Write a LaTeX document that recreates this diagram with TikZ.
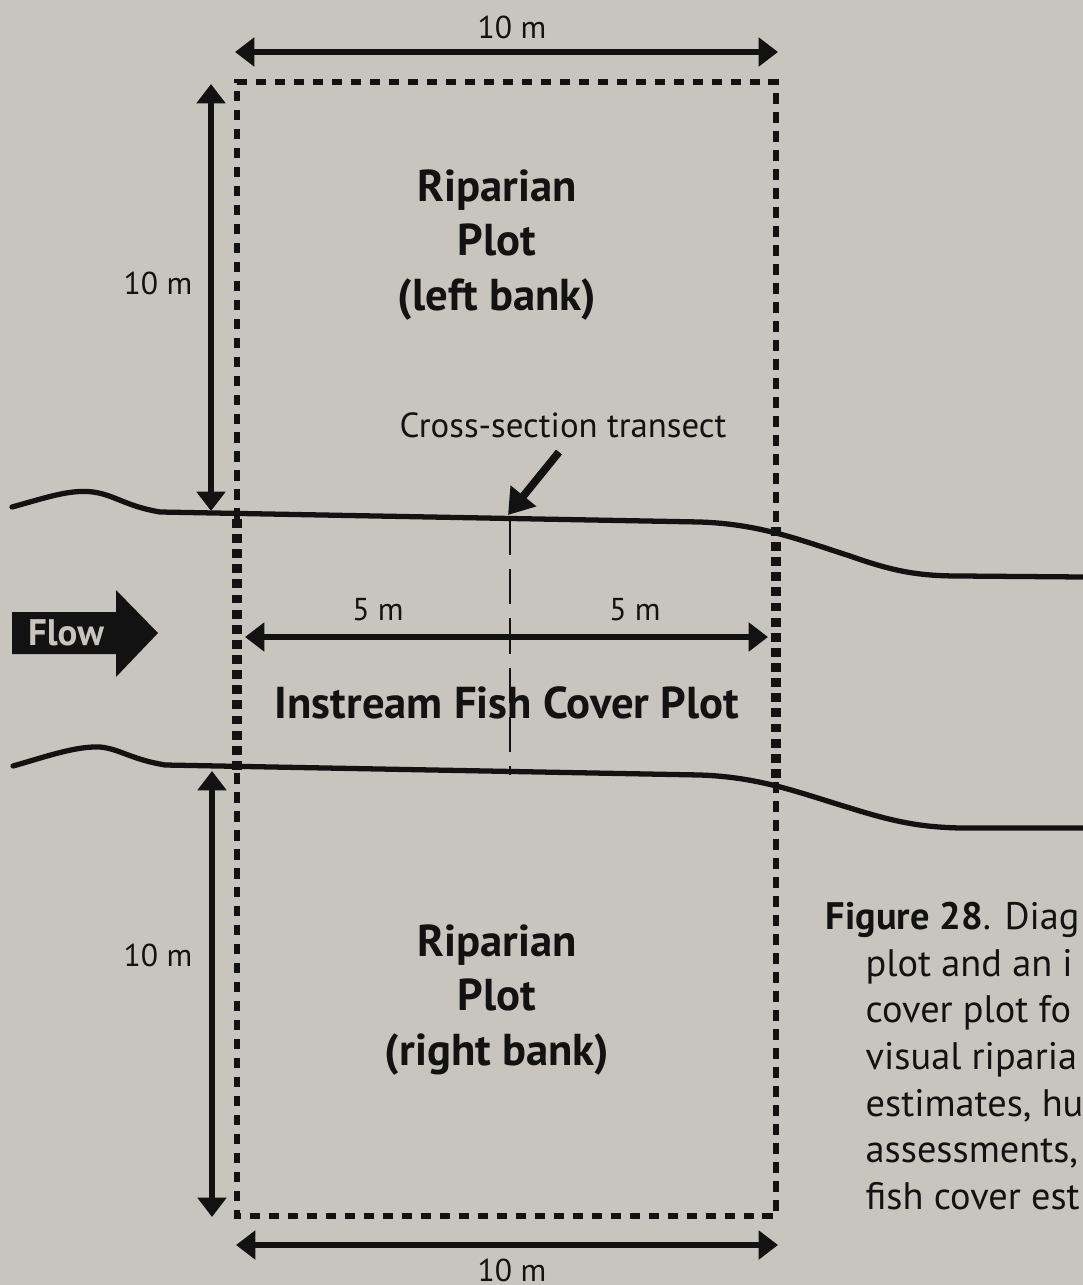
\documentclass[tikz,border=0pt]{standalone}
\usepackage{fontspec}
\setmainfont{PT Sans}
\usetikzlibrary{arrows.meta,positioning,calc}
\definecolor{paper}{RGB}{199,197,189}
\definecolor{ink}{RGB}{18,18,18}

\begin{document}
\begin{tikzpicture}[x=0.01cm,y=-0.01cm,>={Triangle[length=5.5pt,width=8pt]},
  dim/.style={<->,line width=1.5pt,ink},
  plotedge/.style={ink,line width=1.7pt,dash pattern=on 3pt off 2.4pt},
  streamedge/.style={ink,line width=3pt,dash pattern=on 2.5pt off 1.8pt},
  bank/.style={ink,line width=1.5pt,line cap=round},
  transect/.style={ink,line width=0.6pt,dash pattern=on 10pt off 4pt},
  lbl/.style={font=\fontsize{9}{11}\selectfont,text=ink,inner sep=1pt},
  plotlbl/.style={font=\bfseries\fontsize{12.7}{15.6}\selectfont,align=center,text=ink},
  capline/.style={anchor=base west,font=\fontsize{10.9}{13}\selectfont,text=ink,inner sep=0pt}]
\fill[paper] (0,0) rectangle (1083,1285);
\useasboundingbox (0,0) rectangle (1083,1285);

% plot corners
\coordinate (nw) at (237,82);
\coordinate (ne) at (776,82);
\coordinate (bl) at (237,519);
\coordinate (br) at (776,527);
\coordinate (cl) at (237,773);
\coordinate (cr) at (776,781);
\coordinate (sw) at (237,1216);
\coordinate (se) at (776,1216);

% stream banks
\draw[bank] (12,507) .. controls (45,498) and (70,489) .. (93,492)
  .. controls (115,495) and (125,506) .. (160,512) -- (700,522)
  .. controls (760,524) and (800,540) .. (850,556)
  .. controls (895,572) and (920,576) .. (960,576) -- (1083,577);
\draw[bank] (13,766) .. controls (45,757) and (75,746) .. (100,747)
  .. controls (120,749) and (130,759) .. (165,765) -- (700,775)
  .. controls (760,777) and (800,793) .. (850,808)
  .. controls (895,822) and (920,827) .. (960,828) -- (1083,828);

% plot outlines
\draw[plotedge] (bl) -- (nw) -- (ne) -- (br);
\draw[plotedge] (cl) -- (sw) -- (se) -- (cr);
\draw[streamedge] (bl) -- (cl);
\draw[streamedge] (br) -- (cr);

% transect
\coordinate (xtop) at (510,520);
\coordinate (xbot) at (510,775);
\draw[transect] (xtop) -- (xbot);
\node[lbl,font=\fontsize{9.9}{11}\selectfont] (xslbl) at (563,425) {Cross-section transect};
\coordinate (xstail) at (559,452);
\draw[->,>={Triangle[length=7pt,width=9pt]},line width=2.2pt,ink] (xstail) -- ($(xtop)+(-2,-5)$);

% dimensions
\coordinate (t1) at (235,52);  \coordinate (t2) at (778,52);
\coordinate (b1) at (236,1245); \coordinate (b2) at (778,1245);
\coordinate (l1) at (211,84);  \coordinate (l2) at (211,511);
\coordinate (l3) at (212,771); \coordinate (l4) at (212,1217);
\coordinate (m1) at (245,637); \coordinate (m2) at (768,637);
\draw[dim] (t1) -- (t2);
\draw[dim] (b1) -- (b2);
\draw[dim] (l1) -- (l2);
\draw[dim] (l3) -- (l4);
\draw[dim] (m1) -- (m2);
\node[lbl] (toplen) at (512,27) {10 m};
\node[lbl] (botlen) at (512,1270) {10 m};
\node[lbl] (leftlen) at (158,283) {10 m};
\node[lbl] (rightlen) at (158,955) {10 m};
\node[lbl] (halfa) at (378,610) {5 m};
\node[lbl] (halfb) at (635,610) {5 m};

% plot names
\node[plotlbl] (leftplot) at (497,245) {Riparian\\Plot\\(left bank)};
\node[plotlbl] (rightplot) at (497,1000) {Riparian\\Plot\\(right bank)};
\node[plotlbl] (instream) at (507,703) {Instream Fish Cover Plot};

% flow arrow
\fill[ink] (12,612) -- (116,612) -- (116,590) -- (158,633) -- (116,677) -- (116,654) -- (12,654) -- cycle;
\node[font=\bfseries\fontsize{10.5}{12}\selectfont,text=paper] (flow) at (66,633) {Flow};

% caption, as far as the page shows it
\node[capline] (cap1) at (825,929) {\textbf{Figure 28}. Diag};
\node[capline] (cap2) at (865,976) {plot and an i};
\node[capline] (cap3) at (865,1022) {cover plot fo};
\node[capline] (cap4) at (865,1069) {visual riparia};
\node[capline] (cap5) at (865,1116) {estimates, hu};
\node[capline] (cap6) at (865,1162) {assessments,};
\node[capline] (cap7) at (865,1209) {fish cover est};
\end{tikzpicture}
\end{document}
